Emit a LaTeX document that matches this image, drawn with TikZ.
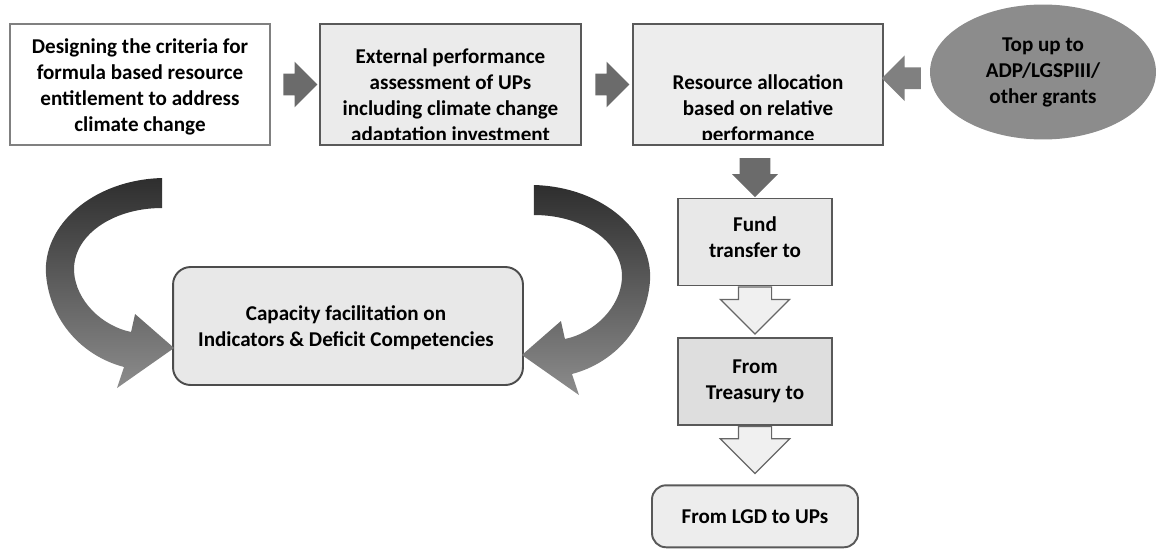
\documentclass[tikz,border=0pt]{standalone}
\usepackage{fontspec}
\setmainfont{Carlito}
\usetikzlibrary{calc,shapes.geometric,shapes.arrows,positioning}
\tikzset{
    topbox/.style={
    rectangle,draw=black!65,line width=1.1pt,minimum height=2.42cm,inner sep=0pt
    },
    boxtext/.style={
    align=center,font=\bfseries\fontsize{12}{14.8}\selectfont,inner sep=0pt
    },
    flowbox/.style={
    rectangle,draw=black!65,line width=1.1pt,minimum width=3.08cm,minimum height=1.74cm,
    align=center,font=\bfseries\fontsize{12}{14.8}\selectfont
    },
    darkarrow/.style={
    single arrow,fill=black!58,draw=none,inner xsep=0pt,inner ysep=0.21cm,
    single arrow head extend=0.24cm
    },
    hollowarrow/.style={
    single arrow,fill=black!6,draw=black!60,line width=0.7pt,inner xsep=0pt,inner ysep=0.32cm,
    single arrow head extend=0.36cm,minimum height=0.94cm
    },
    bendfill/.style={
    top color=black!82,bottom color=black!45,draw=none
    },
}
\newcommand{\bendpath}{(-10,-148) .. controls (-80,-146) and (-130,-100) .. (-126,-51)
  .. controls (-122,-5) and (-90,30) .. (-48,41)
  -- (-55,62) -- (2,22) -- (-37,-12) -- (-41,6)
  .. controls (-70,0) and (-96,-25) .. (-98,-54)
  .. controls (-100,-90) and (-60,-118) .. (-10,-118) -- cycle}
\begin{document}
\begin{tikzpicture}[x=0.02cm,y=-0.02cm]
  \useasboundingbox (0,0) rectangle (1156,548);
  % top row
  \node[topbox,fill=white,draw=black!50,minimum width=5.2cm] (design) at (140,84.5) {};
  \node[boxtext] (designtxt) at (140,87) {Designing the criteria for\\formula based resource\\entitlement to address\\climate change};
  \node[topbox,fill=black!8,minimum width=5.22cm] (assess) at (450.5,84.5) {};
  \begin{scope}
    \clip (320,25) rectangle (581,139);
    \node[boxtext] (assesstxt) at (450.5,97) {External performance\\assessment of UPs\\including climate change\\adaptation investment};
  \end{scope}
  \node[topbox,fill=black!7,minimum width=5cm] (alloc) at (758,84.5) {};
  \begin{scope}
    \clip (633,25) rectangle (883,139);
    \node[boxtext] (alloctxt) at (758,109.5) {Resource allocation\\based on relative\\performance};
  \end{scope}
  \node[ellipse,fill=black!45,minimum width=4.52cm,minimum height=2.7cm,inner sep=0pt,
    align=center,font=\bfseries\fontsize{12}{14.8}\selectfont] (topup) at (1043,72) {Top up to\\ADP/LGSPIII/\\other grants};

  \node[darkarrow,minimum height=0.68cm] (a1) at ($(design.east)!0.5!(assess.west)$) {};
  \node[darkarrow,minimum height=0.68cm] (a2) at ($(assess.east)!0.5!(alloc.west)$) {};
  \node[darkarrow,fill=black!50,minimum height=0.78cm,rotate=180] (a3) at ($(alloc.east)!0.5!(topup.west)$) {};

  % fund flow
  \node[flowbox,fill=black!9] (fund) at (755,242) {};
  \node[boxtext] (fundtxt) at (755,237) {Fund\\transfer to};
  \node[darkarrow,inner ysep=0.3cm,single arrow head extend=0.15cm,minimum height=0.78cm,
    rotate=-90,anchor=tip] (a4) at (fund.north) {};
  \node[hollowarrow,rotate=-90,anchor=tail] (a5) at (fund.south) {};
  \node[flowbox,fill=black!13,below=0.04cm of a5.tip] (treasury) {From\\Treasury to};
  \node[hollowarrow,rotate=-90,anchor=tail] (a6) at (treasury.south) {};
  \node[flowbox,fill=black!7,rounded corners=8pt,minimum width=4.12cm,minimum height=1.24cm,
    below=0.2cm of a6.tip] (lgd) {From LGD to UPs};

  % capacity
  \node[rectangle,rounded corners=10pt,draw=black!70,fill=black!9,line width=1.1pt,
    minimum width=7cm,minimum height=2.36cm] (cap) at (348,326) {};
  \node[boxtext] (captxt) at (346,328) {Capacity facilitation on\\Indicators \& Deficit Competencies};
  \begin{scope}[shift={(cap.west)}]
    \shade[bendfill] \bendpath;
  \end{scope}
  \begin{scope}[shift={($(cap.east)+(0,7)$)},xscale=-1]
    \shade[bendfill] \bendpath;
  \end{scope}
\end{tikzpicture}
\end{document}
